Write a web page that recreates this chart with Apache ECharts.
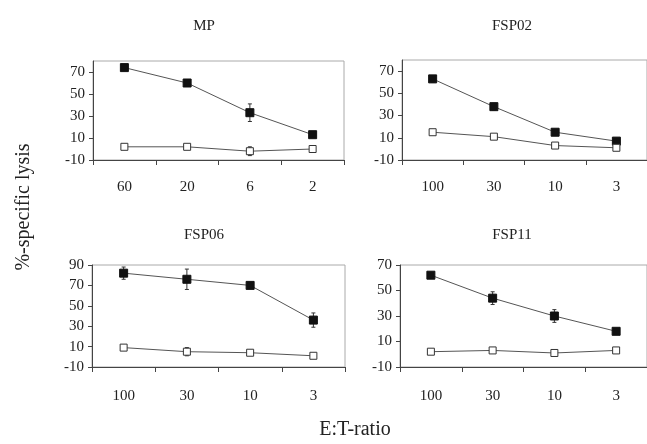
<!DOCTYPE html>
<html>
<head>
<meta charset="utf-8">
<script src="https://cdn.jsdelivr.net/npm/echarts@6/dist/echarts.min.js"></script>
<style>
  html, body { margin: 0; padding: 0; background: #fff; }
  #chart { width: 647px; height: 444px; }
</style>
</head>
<body>
<div id="chart"></div>
<script>
// panel titles and E:T ratios on the category axes
const panelTitles = ['MP', 'FSP02', 'FSP06', 'FSP11'];
const mpRatios = ['60', '20', '6', '2'];
const fspRatios = ['100', '30', '10', '3'];

// % specific lysis, filled = target cells, open = control cells
const mpFilled = [74, 60, 33, 13];
const mpFilledErr = [2, 2, 8, 1];
const mpOpen = [2, 2, -2, 0];
const mpOpenErr = [1, 1, 4, 1];

const fsp02Filled = [63, 38, 15, 7];
const fsp02FilledErr = [3, 3, 1, 1];
const fsp02Open = [15, 11, 3, 1];
const fsp02OpenErr = [1, 1, 1, 1];

const fsp06Filled = [82, 76, 70, 36];
const fsp06FilledErr = [6, 10, 1, 7];
const fsp06Open = [9, 5, 4, 1];
const fsp06OpenErr = [1, 4, 1, 1];

const fsp11Filled = [62, 44, 30, 18];
const fsp11FilledErr = [2, 5, 5, 1];
const fsp11Open = [2, 3, 1, 3];
const fsp11OpenErr = [1, 1, 1, 1];

const yMax = [80, 80, 90, 70];

const FONT = '"Liberation Serif", "DejaVu Serif", serif';

const chart = echarts.init(document.getElementById('chart'));

const grids = [
    { left: 93, top: 61, width: 251, height: 99 },
    { left: 402, top: 60, width: 249, height: 100 },
    { left: 92, top: 265, width: 253, height: 102 },
    { left: 400, top: 265, width: 250, height: 102 }
];

const panels = [
    { cats: mpRatios, filled: mpFilled, filledErr: mpFilledErr, open: mpOpen, openErr: mpOpenErr },
    { cats: fspRatios, filled: fsp02Filled, filledErr: fsp02FilledErr, open: fsp02Open, openErr: fsp02OpenErr },
    { cats: fspRatios, filled: fsp06Filled, filledErr: fsp06FilledErr, open: fsp06Open, openErr: fsp06OpenErr },
    { cats: fspRatios, filled: fsp11Filled, filledErr: fsp11FilledErr, open: fsp11Open, openErr: fsp11OpenErr }
];

function errData(vals, errs) {
    return vals.map((v, i) => [i, v - errs[i], v + errs[i]]);
}

function renderErr(params, api) {
    const x = api.coord([api.value(0), 0])[0];
    const lo = api.coord([api.value(0), api.value(1)])[1];
    const hi = api.coord([api.value(0), api.value(2)])[1];
    const style = { stroke: '#333', lineWidth: 1 };
    return {
        type: 'group',
        children: [
            { type: 'line', shape: { x1: x, y1: lo, x2: x, y2: hi }, style: style },
            { type: 'line', shape: { x1: x - 2, y1: lo, x2: x + 2, y2: lo }, style: style },
            { type: 'line', shape: { x1: x - 2, y1: hi, x2: x + 2, y2: hi }, style: style }
        ]
    };
}

const xAxes = [], yAxes = [], series = [];
panels.forEach((p, k) => {
    xAxes.push({
        type: 'category',
        gridIndex: k,
        data: p.cats,
        boundaryGap: true,
        axisLine: { onZero: false, lineStyle: { color: '#444', width: 1 } },
        axisTick: { show: true, length: 5, lineStyle: { color: '#444' } },
        axisLabel: { color: '#222', fontFamily: FONT, fontSize: 15, margin: k < 2 ? 20 : 22 },
        splitLine: { show: false }
    });
    yAxes.push({
        type: 'value',
        gridIndex: k,
        min: -10,
        max: yMax[k],
        interval: 20,
        axisLine: { show: true, onZero: false, lineStyle: { color: '#444', width: 1 } },
        axisTick: { show: true, length: 4, lineStyle: { color: '#444' } },
        axisLabel: { color: '#222', fontFamily: FONT, fontSize: 15, margin: 8, showMaxLabel: yMax[k] % 20 === 10 },
        splitLine: { show: false }
    });
    series.push({
        type: 'custom',
        xAxisIndex: k, yAxisIndex: k,
        renderItem: renderErr,
        data: errData(p.filled, p.filledErr),
        z: 1
    });
    series.push({
        type: 'custom',
        xAxisIndex: k, yAxisIndex: k,
        renderItem: renderErr,
        data: errData(p.open, p.openErr),
        z: 1
    });
    series.push({
        type: 'line',
        xAxisIndex: k, yAxisIndex: k,
        data: p.filled,
        symbol: 'rect',
        symbolSize: 8,
        lineStyle: { color: '#555', width: 1 },
        itemStyle: { color: '#111', borderColor: '#111', borderWidth: 1 },
        z: 3
    });
    series.push({
        type: 'line',
        xAxisIndex: k, yAxisIndex: k,
        data: p.open,
        symbol: 'rect',
        symbolSize: 7,
        lineStyle: { color: '#555', width: 1 },
        itemStyle: { color: '#fff', borderColor: '#333', borderWidth: 1 },
        z: 3
    });
});

const titlePos = [[199, 14], [507, 14], [199, 223], [507, 223]];

chart.setOption({
    animation: false,
    backgroundColor: '#fff',
    title: panelTitles.map((t, k) => ({
        text: t,
        left: titlePos[k][0],
        top: titlePos[k][1],
        textAlign: 'center',
        textStyle: { fontFamily: FONT, fontSize: 15, fontWeight: 'normal', color: '#222' }
    })),
    grid: grids.map(g => Object.assign({ show: true, borderColor: '#aaa', borderWidth: 1, backgroundColor: 'transparent' }, g)),
    xAxis: xAxes,
    yAxis: yAxes,
    series: series,
    graphic: [
        {
            type: 'text',
            x: 24, y: 207,
            rotation: Math.PI / 2,
            style: {
                text: '%-specific lysis',
                font: '20px ' + FONT,
                fill: '#222',
                textAlign: 'center',
                textVerticalAlign: 'middle'
            }
        },
        {
            type: 'text',
            x: 355, y: 430,
            style: {
                text: 'E:T-ratio',
                font: '20px ' + FONT,
                fill: '#222',
                textAlign: 'center',
                textVerticalAlign: 'middle'
            }
        }
    ]
});
</script>
</body>
</html>
